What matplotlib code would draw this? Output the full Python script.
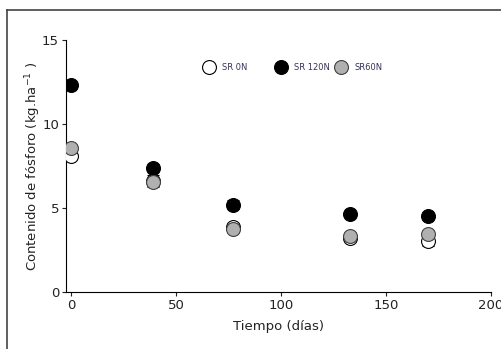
import matplotlib
matplotlib.use("Agg")
import matplotlib.pyplot as plt
from matplotlib.lines import Line2D

days = [0, 39, 77, 133, 170]
sr0n = [8.1, 6.6, 3.85, 3.2, 3.05]
sr0n_err = [0.2, 0.35, 0.25, 0.15, 0.3]
sr120n = [12.3, 7.4, 5.2, 4.65, 4.55]
sr120n_err = [0.15, 0.2, 0.25, 0.1, 0.15]
sr60n = [8.6, 6.55, 3.75, 3.35, 3.45]
sr60n_err = [0.15, 0.25, 0.2, 0.15, 0.2]
labels = ["SR 0N", "SR 120N", "SR60N"]

W, H = 502, 349
fig = plt.figure(figsize=(W/100, H/100), dpi=100)
ax = fig.add_axes([66/W, 57/H, (491-66)/W, (292-40)/H])

ms = 10
styles = [dict(mfc='white', mec='black'), dict(mfc='black', mec='black'),
          dict(mfc='#b0b0b0', mec='#404040')]
series = [(sr0n, sr0n_err), (sr120n, sr120n_err), (sr60n, sr60n_err)]
for z, ((vals, err), st) in enumerate(zip(series, styles)):
    ax.errorbar(days, vals, yerr=err, fmt='o', ms=ms, mew=0.8, ecolor='black',
                elinewidth=0.8, capsize=4, zorder=3 + z, **st)

ax.set_xlim(-2.4, 200)
ax.set_ylim(0, 15)
ax.set_xticks([0, 50, 100, 150, 200])
ax.set_yticks([0, 5, 10, 15])
for s in ['top', 'right']:
    ax.spines[s].set_visible(False)
for s in ['left', 'bottom']:
    ax.spines[s].set_linewidth(0.8)
ax.tick_params(direction='out', length=3, width=0.8, labelsize=9.5, colors='#222222', pad=2)
ax.set_xlabel('Tiempo (días)', fontsize=9.5, labelpad=6, color='#222222')
ax.set_ylabel('Contenido de fósforo (kg.ha$^{-1}$ )', fontsize=9.5, labelpad=-1, color='#222222')

# legend entries placed individually (marker centres at ~209, 281, 341 px)
hl = 1.8
fs = 6.0
legs = []
for lab, st, mx in zip(labels, styles, [209, 281, 341]):
    h = Line2D([], [], marker='o', ls='', ms=ms, mew=0.8, **st)
    start_px = mx - hl * fs * 100 / 72 / 2
    leg = ax.legend([h], [lab], frameon=False, loc='center left',
                    bbox_to_anchor=((start_px - 66) / 425, (292 - 67) / 252),
                    borderaxespad=0, borderpad=0, fontsize=fs,
                    handletextpad=0.7, handlelength=hl)
    for t in leg.get_texts():
        t.set_color('#333355')
    legs.append(leg)
for leg in legs[:-1]:
    ax.add_artist(leg)

fig.add_artist(Line2D([6.5/W, 1], [1 - 9.5/H, 1 - 9.5/H], transform=fig.transFigure,
                      color='#444444', lw=1.2))
fig.add_artist(Line2D([6.5/W, 6.5/W], [0, 1 - 9.5/H], transform=fig.transFigure,
                      color='#444444', lw=1.2))

fig.savefig('out.png', dpi=100)
